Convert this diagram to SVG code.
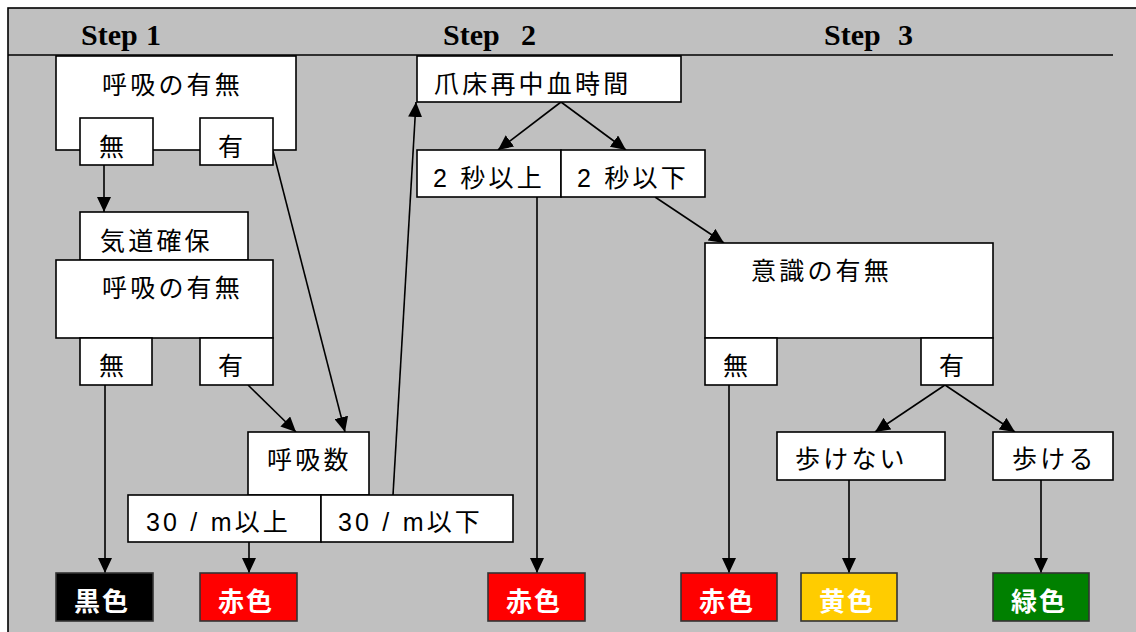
<svg xmlns="http://www.w3.org/2000/svg" width="1136" height="632" viewBox="0 0 1136 632">
<style>
.box{fill:#fff;stroke:#000;stroke-width:1.6}
.cbox{stroke:#333;stroke-width:1.6}
.t{font-family:"Liberation Sans","Noto Sans CJK JP",sans-serif;font-size:25px;letter-spacing:3.2px;fill:#000}
.c{font-family:"Liberation Sans","Noto Sans CJK JP",sans-serif;font-size:26px;font-weight:bold;letter-spacing:2px;fill:#fff}
.step{font-family:"Liberation Serif",serif;font-size:30px;font-weight:bold;fill:#000}
.ln{stroke:#000;stroke-width:1.6;fill:none;marker-end:url(#ah)}
</style>
<defs>
<marker id="ah" viewBox="0 0 15 14" refX="15" refY="7" markerWidth="15" markerHeight="14" markerUnits="userSpaceOnUse" orient="auto">
<path d="M0,0 L15,7 L0,14 z" fill="#000"/>
</marker>
</defs>
<rect x="0" y="0" width="1136" height="632" fill="#fff"/>
<rect x="8" y="8" width="1200" height="700" fill="#c0c0c0" stroke="#000" stroke-width="1.6"/>
<line x1="8" y1="55" x2="1113" y2="55" stroke="#000" stroke-width="1.6"/>
<g id="headers">
<text class="step" x="81" y="45">Step<tspan x="146">1</tspan></text>
<text class="step" x="443" y="45">Step<tspan x="521">2</tspan></text>
<text class="step" x="824" y="45">Step<tspan x="898">3</tspan></text>
</g>
<g id="connectors">
<line class="ln" x1="104" y1="165" x2="104" y2="212"/>
<line class="ln" x1="273" y1="151" x2="345" y2="432"/>
<line class="ln" x1="248" y1="385" x2="296" y2="432"/>
<line class="ln" x1="393" y1="495" x2="416" y2="102"/>
<line class="ln" x1="561" y1="102" x2="498" y2="150"/>
<line class="ln" x1="561" y1="102" x2="626" y2="150"/>
<line class="ln" x1="537" y1="197" x2="537" y2="573"/>
<line class="ln" x1="655" y1="197" x2="724" y2="243"/>
<line class="ln" x1="729" y1="385" x2="729" y2="573"/>
<line class="ln" x1="945" y1="385" x2="875" y2="432"/>
<line class="ln" x1="945" y1="385" x2="1015" y2="432"/>
<line class="ln" x1="849" y1="480" x2="849" y2="573"/>
<line class="ln" x1="1041" y1="480" x2="1041" y2="573"/>
<line class="ln" x1="249" y1="542" x2="249" y2="573"/>
<line class="ln" x1="105" y1="385" x2="105" y2="573"/>
</g>
<g id="breath1">
<rect class="box" x="56" y="56" width="240" height="94"/>
<text class="t" x="102" y="93.5">呼吸の有無</text>
</g>
<g id="breath1-no">
<rect class="box" x="80" y="118" width="73" height="47"/>
<text class="t" x="99" y="156">無</text>
</g>
<g id="breath1-yes">
<rect class="box" x="200" y="118" width="73" height="47"/>
<text class="t" x="218" y="156">有</text>
</g>
<g id="airway">
<rect class="box" x="80" y="212" width="168" height="48"/>
<text class="t" x="100" y="250">気道確保</text>
</g>
<g id="breath2">
<rect class="box" x="56" y="260" width="217" height="78"/>
<text class="t" x="102" y="296.5">呼吸の有無</text>
</g>
<g id="breath2-no">
<rect class="box" x="80" y="338" width="72" height="47"/>
<text class="t" x="99" y="375">無</text>
</g>
<g id="breath2-yes">
<rect class="box" x="200" y="338" width="73" height="47"/>
<text class="t" x="218" y="375">有</text>
</g>
<g id="rate">
<rect class="box" x="248" y="432" width="121" height="63"/>
<text class="t" x="267" y="468.5">呼吸数</text>
</g>
<g id="rate-high">
<rect class="box" x="128" y="495" width="193" height="47"/>
<text class="t" x="146" y="531">30 / m以上</text>
</g>
<g id="rate-low">
<rect class="box" x="321" y="495" width="192" height="47"/>
<text class="t" x="338" y="531">30 / m以下</text>
</g>
<g id="crt">
<rect class="box" x="417" y="56" width="264" height="46"/>
<text class="t" x="434" y="93">爪床再中血時間</text>
</g>
<g id="crt-over">
<rect class="box" x="417" y="150" width="144" height="47"/>
<text class="t" x="433" y="186.5">2 秒以上</text>
</g>
<g id="crt-under">
<rect class="box" x="561" y="150" width="144" height="47"/>
<text class="t" x="577" y="186.5">2 秒以下</text>
</g>
<g id="conscious">
<rect class="box" x="705" y="243" width="288" height="95"/>
<text class="t" x="751" y="280">意識の有無</text>
</g>
<g id="conscious-no">
<rect class="box" x="705" y="338" width="72" height="47"/>
<text class="t" x="723" y="375">無</text>
</g>
<g id="conscious-yes">
<rect class="box" x="921" y="338" width="72" height="47"/>
<text class="t" x="939" y="375">有</text>
</g>
<g id="cannot-walk">
<rect class="box" x="777" y="432" width="168" height="48"/>
<text class="t" x="795" y="467.5">歩けない</text>
</g>
<g id="can-walk">
<rect class="box" x="993" y="432" width="120" height="48"/>
<text class="t" x="1012" y="467.5">歩ける</text>
</g>
<g id="black">
<rect class="cbox" x="56" y="573" width="97" height="48" fill="#000"/>
<text class="c" x="74" y="611">黒色</text>
</g>
<g id="red1">
<rect class="cbox" x="200" y="573" width="97" height="48" fill="#ff0000"/>
<text class="c" x="218" y="611">赤色</text>
</g>
<g id="red2">
<rect class="cbox" x="488" y="573" width="97" height="48" fill="#ff0000"/>
<text class="c" x="506" y="611">赤色</text>
</g>
<g id="red3">
<rect class="cbox" x="681" y="573" width="96" height="48" fill="#ff0000"/>
<text class="c" x="699" y="611">赤色</text>
</g>
<g id="yellow">
<rect class="cbox" x="801" y="573" width="96" height="48" fill="#ffcc00"/>
<text class="c" x="819" y="611">黄色</text>
</g>
<g id="green">
<rect class="cbox" x="993" y="573" width="96" height="48" fill="#008000"/>
<text class="c" x="1011" y="611">緑色</text>
</g>
</svg>
